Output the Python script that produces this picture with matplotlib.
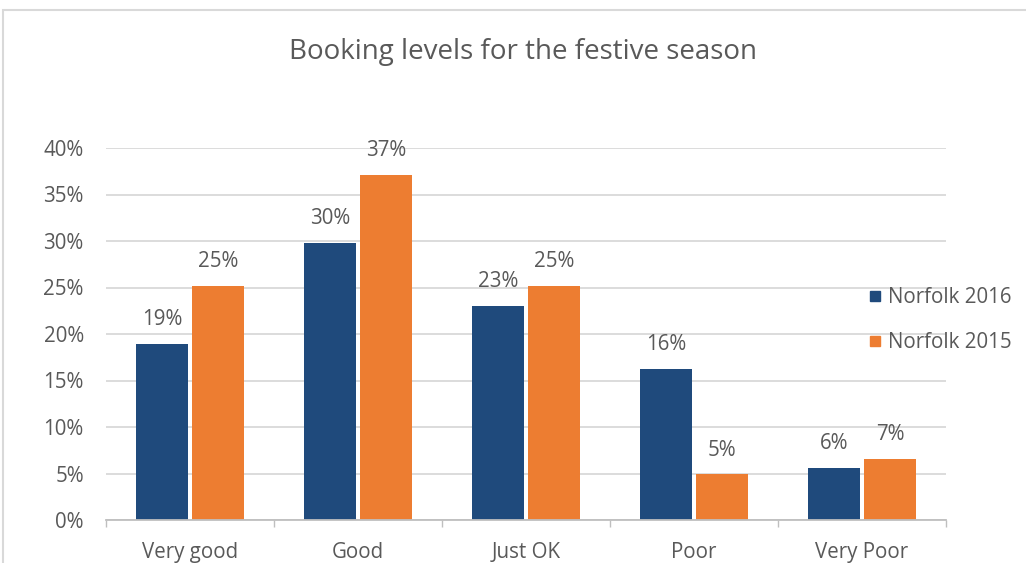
import matplotlib.pyplot as plt
import numpy as np
from matplotlib.patches import Rectangle
from matplotlib.lines import Line2D

categories = ['Very good', 'Good', 'Just OK', 'Poor', 'Very Poor']
norfolk_2016 = [18.9, 29.8, 23.0, 16.2, 5.6]
norfolk_2015 = [25.2, 37.1, 25.2, 4.9, 6.6]
series_names = ['Norfolk 2016', 'Norfolk 2015']
yticks = [0, 5, 10, 15, 20, 25, 30, 35, 40]

blue = '#1F4A7C'
orange = '#ED7D31'
text_col = '#595959'
grid_col = '#D9D9D9'

plt.rcParams['font.family'] = ['Open Sans', 'DejaVu Sans']
fs = 14.8

fig = plt.figure(figsize=(10.26, 5.63), dpi=100)
# outer chart frame
fig.patches.append(Rectangle((3 / 1026, -0.1), 1.2, 1 - 10 / 563 + 0.1,
                             transform=fig.transFigure, fill=False,
                             edgecolor='#D9D9D9', linewidth=1.5))

ax = fig.add_axes([106 / 1026, 1 - 520 / 563, 840 / 1026, 372 / 563])

x = np.arange(len(categories))
w = 0.31
gap = 0.012
b1 = ax.bar(x - w / 2 - gap, norfolk_2016, w, color=blue, zorder=3)
b2 = ax.bar(x + w / 2 + gap, norfolk_2015, w, color=orange, zorder=3)

for bars, vals in [(b1, norfolk_2016), (b2, norfolk_2015)]:
    for b, v in zip(bars, vals):
        ax.annotate('%d%%' % round(v), (b.get_x() + b.get_width() / 2, v),
                    xytext=(0, 10), textcoords='offset points',
                    ha='center', va='bottom', fontsize=fs, color=text_col)

ax.set_xlim(-0.5, len(categories) - 0.5)
ax.set_ylim(0, 40)
ax.set_yticks(yticks)
ax.set_yticklabels(['%d%%' % t for t in yticks])
ax.set_xticks(x)
ax.set_xticklabels(categories)
ax.set_xticks(np.arange(-0.5, len(categories)), minor=True)
ax.tick_params(axis='y', length=0, pad=16, labelsize=fs, labelcolor=text_col)
ax.tick_params(axis='x', which='major', length=0, pad=16, labelsize=fs,
               labelcolor=text_col)
ax.tick_params(axis='x', which='minor', length=5, color='#BFBFBF', width=1)
ax.grid(axis='y', color=grid_col, linewidth=1.3, zorder=0)
for s in ['top', 'right', 'left']:
    ax.spines[s].set_visible(False)
ax.spines['bottom'].set_color('#BFBFBF')
ax.spines['bottom'].set_linewidth(1.3)
ax.spines['bottom'].set_zorder(4)

fig.text(523 / 1026, 1 - 52 / 563, 'Booking levels for the festive season',
         ha='center', va='center', fontsize=20, color=text_col)

handles = [Line2D([], [], marker='s', linestyle='', markersize=7, color=c)
           for c in [blue, orange]]
leg = fig.legend(handles, series_names, loc='center left',
                 bbox_to_anchor=(846 / 1026, 1 - 320 / 563), frameon=False,
                 fontsize=fs, labelcolor=text_col, handletextpad=0.15,
                 labelspacing=1.15, handlelength=1.0)

fig.savefig('out.png', dpi=100)
